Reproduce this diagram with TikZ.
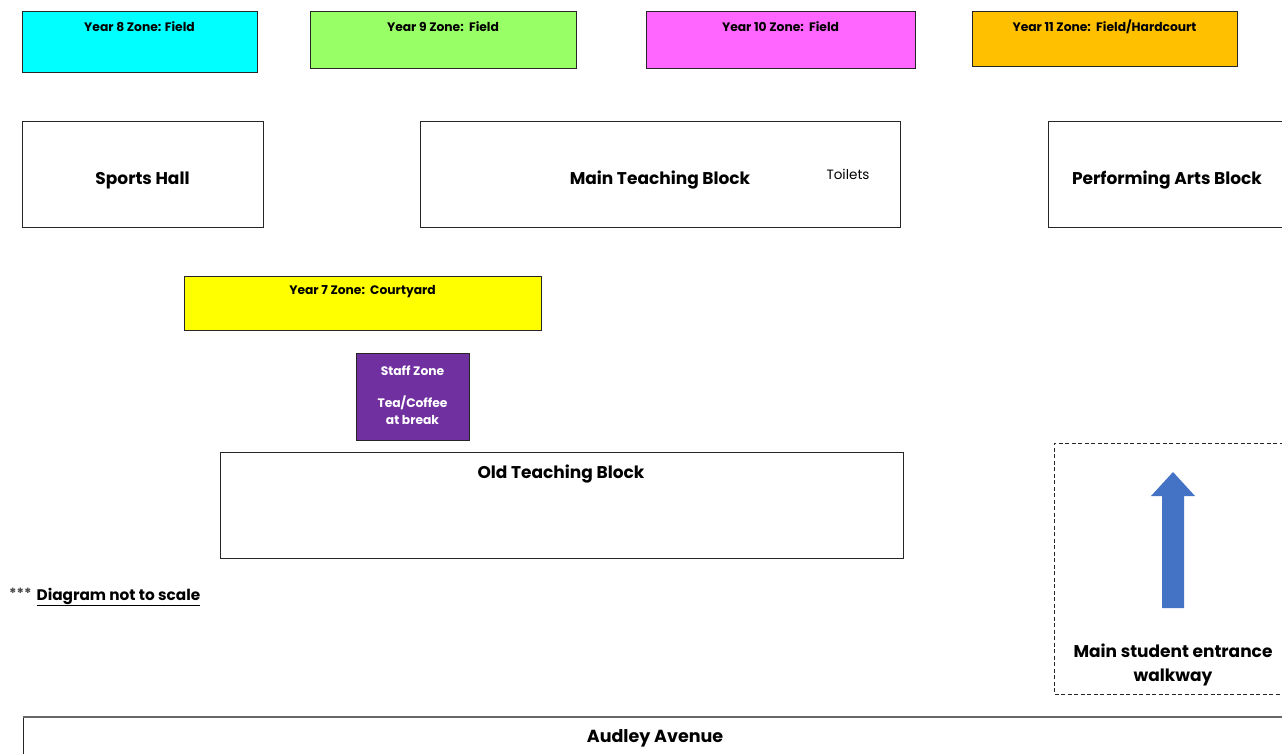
\documentclass[tikz,border=0pt]{standalone}
\usepackage{fontspec}
\setmainfont{Poppins}
\usetikzlibrary{shapes.arrows}
\definecolor{ycyan}{HTML}{00FFFF}
\definecolor{ygreen}{HTML}{99FF66}
\definecolor{ypink}{HTML}{FF66FF}
\definecolor{yorange}{HTML}{FFC000}
\definecolor{yyellow}{HTML}{FFFF00}
\definecolor{staffpurple}{HTML}{7030A0}
\definecolor{arrowblue}{HTML}{4472C4}
\definecolor{edge}{HTML}{262626}
\begin{document}
\begin{tikzpicture}[x=1pt,y=-1pt,
  box/.style={draw=edge,line width=0.9pt},
  zonetext/.style={font=\fontsize{12.3}{14}\selectfont\bfseries,anchor=center},
  bigtext/.style={font=\fontsize{17}{20}\selectfont\bfseries,anchor=center}]
\useasboundingbox (0,0) rectangle (1282,754);
% zones
\draw[box,fill=ycyan] (22,11) rectangle (257,72);
\node[zonetext] (y8) at (139.5,27) {Year 8 Zone: Field};
\draw[box,fill=ygreen] (310,11) rectangle (576,68);
\node[zonetext] (y9) at (443,27) {Year 9 Zone:\ \ Field};
\draw[box,fill=ypink] (646,11) rectangle (915,68);
\node[zonetext] (y10) at (780.5,27) {Year 10 Zone:\ \ Field};
\draw[box,fill=yorange] (972,11) rectangle (1237,66);
\node[zonetext] (y11) at (1104.5,27) {Year 11 Zone:\ \ Field/Hardcourt};
% buildings
\draw[box] (22,121) rectangle (263,227);
\node[bigtext] (sh) at (142.5,180) {Sports Hall};
\draw[box] (420,121) rectangle (900,227);
\node[bigtext] (mtb) at (660,180) {Main Teaching Block};
\node[font=\fontsize{13.5}{16}\selectfont] (toil) at (848,174) {Toilets};
\draw[box] (1290,121) -- (1048,121) -- (1048,227) -- (1290,227);
\node[bigtext] (pab) at (1167,180) {Performing Arts Block};
\draw[box,fill=yyellow] (184,276) rectangle (541,330);
\node[zonetext] (y7) at (362.5,292) {Year 7 Zone:\ \ Courtyard};
\draw[box,fill=staffpurple] (356,353) rectangle (469,440);
\node[zonetext,text=white] (s1) at (412.5,371) {Staff Zone};
\node[zonetext,text=white,align=center,font=\fontsize{12.3}{17}\selectfont\bfseries] (s2) at (412.5,410.5) {Tea/Coffee\\at break};
\draw[box] (220,452) rectangle (903,558);
\node[bigtext] (otb) at (561,474) {Old Teaching Block};
% note
\node[anchor=west,inner sep=0pt,font=\fontsize{15.3}{18}\selectfont\bfseries] (note) at (9,597) {\raisebox{1.5pt}{\fontsize{14}{14}\selectfont\color{edge!85}***}\hspace{5pt}\underline{Diagram not to scale}};
% entrance walkway
\draw[edge,line width=0.9pt,dash pattern=on 4pt off 2.5pt] (1290,443) -- (1054,443) -- (1054,694) -- (1290,694);
\fill[arrowblue] (1162,608) -- (1162,496) -- (1151,496) -- (1173,472) -- (1195,496) -- (1184,496) -- (1184,608) -- cycle;
\node[bigtext,align=center,font=\fontsize{17}{24}\selectfont\bfseries] (walk) at (1173,665) {Main student entrance\\walkway};
% road
\draw[box] (1290,717) -- (23,717) -- (23,760);
\draw[edge!70,line width=1.6pt] (23,717) -- (1290,717);
\node[bigtext,font=\fontsize{17.5}{20}\selectfont\bfseries] (road) at (655,738) {Audley Avenue};
\end{tikzpicture}
\end{document}
